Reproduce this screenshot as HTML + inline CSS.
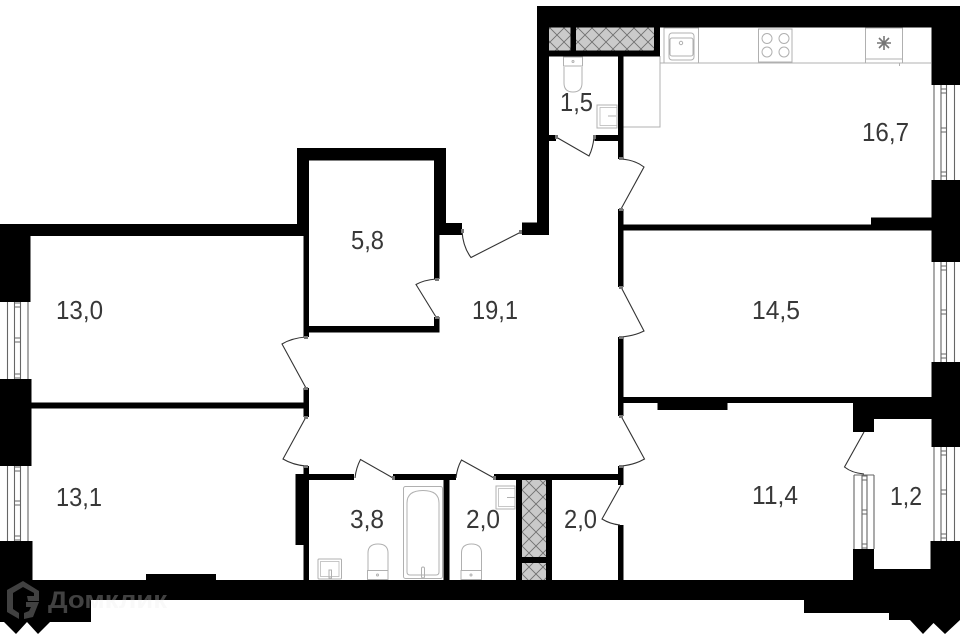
<!DOCTYPE html>
<html><head><meta charset="utf-8"><style>
html,body{margin:0;padding:0;background:#fff;width:960px;height:640px;overflow:hidden}
svg{display:block}
text{font-family:"Liberation Sans",sans-serif}
</style></head><body>
<svg width="960" height="640" viewBox="0 0 960 640" xmlns="http://www.w3.org/2000/svg">
<defs>
<pattern id="h" width="14" height="14" patternUnits="userSpaceOnUse" patternTransform="translate(550 28)">
<rect width="14" height="14" fill="#cacaca"/><path d="M0 0L14 14M14 0L0 14" stroke="#707070" stroke-width="0.900"/>
</pattern>
</defs>
<!-- shafts -->
<g fill="url(#h)">
<rect x="549" y="27" width="22" height="24"/><rect x="575" y="27" width="80" height="24"/>
<rect x="521" y="479" width="26" height="79"/><rect x="521" y="562" width="26" height="19"/>
</g>
<!-- fixtures -->
<g fill="none" stroke="#b0b0b0" stroke-width="1">
<path d="M623 127H660V56"/><path d="M660 63H931"/>
<rect x="664" y="28" width="34.500" height="35"/>
<rect x="669" y="33" width="25" height="27" rx="3"/><rect x="670" y="38" width="23" height="18" rx="2"/><circle cx="681" cy="43" r="1.700"/>
<rect x="758.500" y="29" width="33.500" height="33"/><circle cx="767" cy="38.500" r="5"/><circle cx="784" cy="38.500" r="5"/><circle cx="767" cy="52" r="5"/><circle cx="784" cy="52" r="5"/>
<rect x="865.500" y="28" width="37" height="35"/><path d="M865.500 59H902.500"/><path d="M899.500 63V66"/>
<path d="M884 36V50M877 43H891M879 38L889 48M889 38L879 48" stroke="#777" stroke-width="1.600"/>
<!-- bath closet -->
<rect x="563.500" y="57" width="19" height="9"/><path d="M564 67V83Q564 92 573 92Q582 92 582 83V67"/><circle cx="573" cy="61.500" r="1"/>
<rect x="597" y="105" width="20" height="23"/><rect x="600" y="107.500" width="17" height="18" stroke-width=".7"/><path d="M608 116H616"/>
<!-- bathroom -->
<rect x="403.500" y="486.500" width="39" height="92" rx="2"/>
<path d="M407 572V503Q407 490.500 423 490.500Q439 490.500 439 503V572Q439 575 436 575H410Q407 575 407 572Z"/>
<rect x="421.500" y="567" width="3" height="11" rx="1.500"/>
<path d="M368 570V553Q368 544 378 544Q388 544 388 553V570"/><rect x="367.500" y="570.500" width="20.500" height="9"/><circle cx="377.500" cy="575" r="1"/>
<path d="M461.500 570V553Q461.500 544 471.500 544Q481.500 544 481.500 553V570"/><rect x="461" y="570.500" width="20.500" height="9"/><circle cx="471" cy="575" r="1"/>
<rect x="318" y="559" width="23.500" height="20" rx="1"/><rect x="320.500" y="561.500" width="18.500" height="15" stroke-width=".7"/><rect x="329" y="570" width="2.500" height="8"/>
<rect x="496" y="486" width="19" height="23"/><rect x="498.500" y="488.500" width="16.500" height="18" stroke-width=".7"/><path d="M507 497.500H515"/>
</g>
<!-- walls -->
<g fill="#000">
<rect x="537" y="6" width="423" height="21.500"/>
<rect x="931.500" y="6" width="28.500" height="79"/>
<rect x="537" y="6" width="12" height="229"/>
<rect x="522" y="222.500" width="27" height="12.500"/>
<rect x="549" y="50.500" width="111" height="6"/>
<rect x="570.500" y="27" width="5.500" height="24"/>
<rect x="654" y="27" width="6" height="29"/>
<rect x="618" y="56" width="5.500" height="103"/>
<rect x="549" y="135" width="7" height="6"/>
<rect x="594.500" y="135" width="24" height="6"/>
<rect x="618" y="209" width="5.500" height="78"/>
<rect x="618" y="337" width="5.500" height="79"/>
<rect x="618" y="466" width="5.500" height="19"/>
<rect x="618" y="525" width="5.500" height="55"/>
<rect x="623" y="224.500" width="310" height="6"/>
<rect x="871" y="217.500" width="62" height="13"/>
<rect x="931.500" y="180" width="28.500" height="82"/>
<rect x="931.500" y="362" width="28.500" height="85"/>
<rect x="623" y="397" width="231" height="6"/>
<rect x="657.500" y="397" width="70" height="13"/>
<rect x="853" y="397" width="79" height="22"/>
<rect x="853" y="397" width="21" height="35"/>
<rect x="930.500" y="541" width="29.500" height="60"/>
<rect x="853" y="549" width="21" height="32"/>
<rect x="853" y="569" width="80" height="31"/>
<rect x="0" y="580" width="960" height="20"/>
<path d="M804 600H960V620H960L945 634L933.500 623L923 634L910 620H889V613H804Z"/>
<!-- left -->
<rect x="0" y="224" width="30.500" height="78"/>
<rect x="0" y="224" width="304" height="12"/>
<rect x="0" y="379" width="31.500" height="87"/>
<rect x="31" y="402.500" width="273" height="6"/>
<rect x="0" y="541" width="32.500" height="40"/>
<rect x="146" y="574" width="70" height="6"/>
<path d="M0 600H91V622H50L38 634L27 622L16 634L4 622H0Z"/>
<!-- room 5.8 -->
<rect x="297" y="148" width="149" height="12.500"/>
<rect x="297" y="148" width="12" height="78"/>
<rect x="303.500" y="224" width="5.500" height="113"/>
<rect x="434" y="148" width="12" height="87"/>
<rect x="446" y="223" width="16" height="12"/>
<rect x="434" y="235" width="5.500" height="44"/>
<rect x="434" y="317" width="5.500" height="15.500"/>
<rect x="309" y="326" width="130" height="6.500"/>
<!-- centre -->
<rect x="303.500" y="388" width="5.500" height="29"/>
<rect x="303.500" y="466" width="5.500" height="114"/>
<rect x="295.500" y="474" width="8" height="71"/>
<rect x="309" y="474" width="45" height="6"/>
<rect x="393" y="474" width="63" height="6"/>
<rect x="494" y="474" width="124" height="6"/>
<rect x="443.500" y="480" width="6" height="100"/>
<rect x="516" y="480" width="6" height="100"/>
<rect x="546" y="480" width="6" height="100"/>
<rect x="522" y="557" width="24" height="6"/>
</g>
<!-- doors -->
<g fill="none" stroke="#333" stroke-width="1.100">
<path d="M556 137L589 156Q593 148 594 137"/>
<path d="M621 159Q635 160 644 167L621 209"/>
<path d="M621 287L644 331Q634 336 621 337"/>
<path d="M621 416L644.500 459Q634 465 621 466"/>
<path d="M621 485L602 519Q610 524 620 525"/>
<path d="M494 478L461.500 460Q457 468 456 478"/>
<path d="M393 478L360.500 459.500Q356 468 355 478"/>
<path d="M306 337Q292 338 282 344L306 388"/>
<path d="M306 417L283 459Q293 465 306 466"/>
<path d="M436 279Q424 280 416 284.500L436 317"/>
<path d="M462 231Q463 247 471 257.500L521 232"/>
<path d="M864 432L844.500 467Q852 473 864 474"/>
</g>
<!-- hinges -->
<g fill="#777">
<rect x="619" y="157" width="4" height="3"/><rect x="619" y="208" width="4" height="3"/>
<rect x="619" y="286" width="4" height="3"/><rect x="619" y="336" width="4" height="3"/>
<rect x="619" y="415" width="4" height="3"/><rect x="619" y="465" width="4" height="3"/>
<rect x="304" y="336" width="4" height="3"/><rect x="304" y="387" width="4" height="3"/>
<rect x="304" y="416" width="4" height="3"/><rect x="304" y="465" width="4" height="3"/>
<rect x="435" y="278" width="4" height="3"/><rect x="435" y="316" width="4" height="3"/>
<rect x="461" y="229" width="3" height="4"/><rect x="519" y="230" width="3" height="4"/>
<rect x="555" y="135" width="3" height="4"/><rect x="593" y="135" width="3" height="4"/>
<rect x="392" y="476" width="3" height="4"/><rect x="493" y="476" width="3" height="4"/>
</g>
<!-- windows -->
<g fill="none" stroke="#666" stroke-width="1.100">
<g transform="translate(934 85)"><path d="M0 0V95M7 0V95M12.500 0V95M20.500 0V95"/><path d="M7 4H12.500M7 8H12.500M7 43H12.500M7 47H12.500M7 87H12.500M7 91H12.500"/></g>
<g transform="translate(934 262)"><path d="M0 0V100M7 0V100M12.500 0V100M20.500 0V100"/><path d="M7 4H12.500M7 8H12.500M7 48H12.500M7 52H12.500M7 92H12.500M7 96H12.500"/></g>
<g transform="translate(934 447)"><path d="M0 0V94M7 0V94M12.500 0V94M20.500 0V94"/><path d="M7 4H12.500M7 8H12.500M7 43H12.500M7 47H12.500M7 87H12.500M7 91H12.500"/></g>
<g transform="translate(7.500 302)"><path d="M0 0V77M7 0V77M13 0V77M20.500 0V77"/><path d="M7 1H13M7 5H13M7 36H13M7 40H13M7 72H13M7 76H13"/></g>
<g transform="translate(7.500 466)"><path d="M0 0V75M7 0V75M13 0V75M20.500 0V75"/><path d="M7 1H13M7 5H13M7 35H13M7 39H13M7 70H13M7 74H13"/></g>
<g transform="translate(854 475)"><path d="M0 0V74M8 0V74M13 0V74M20 0V74M0 0H20"/><path d="M8 1H13M8 5H13M8 35H13M8 39H13M8 69H13M8 73H13"/></g>
</g>
<!-- labels -->
<g font-size="26" fill="#383838" lengthAdjust="spacingAndGlyphs">
<text x="862" y="141" textLength="47" lengthAdjust="spacingAndGlyphs">16,7</text>
<text x="560" y="111" textLength="33" lengthAdjust="spacingAndGlyphs">1,5</text>
<text x="351" y="249" textLength="33" lengthAdjust="spacingAndGlyphs">5,8</text>
<text x="472" y="319" textLength="46" lengthAdjust="spacingAndGlyphs">19,1</text>
<text x="56" y="319" textLength="47" lengthAdjust="spacingAndGlyphs">13,0</text>
<text x="752" y="319" textLength="48" lengthAdjust="spacingAndGlyphs">14,5</text>
<text x="56" y="506" textLength="46" lengthAdjust="spacingAndGlyphs">13,1</text>
<text x="350" y="528" textLength="34" lengthAdjust="spacingAndGlyphs">3,8</text>
<text x="466" y="528" textLength="34" lengthAdjust="spacingAndGlyphs">2,0</text>
<text x="564" y="528" textLength="33" lengthAdjust="spacingAndGlyphs">2,0</text>
<text x="752" y="504" textLength="46" lengthAdjust="spacingAndGlyphs">11,4</text>
<text x="890" y="505" textLength="32" lengthAdjust="spacingAndGlyphs">1,2</text>
</g>
<!-- watermark -->
<g fill="rgba(235,235,235,.28)">
<path fill-rule="evenodd" d="M23 581L39 591V601H28L27 596H34V593L23 587L13 593V609L19 613V619L7 612V590ZM26 602H39L33 617L24 619V613L29 611L31 607H26Z"/>
<text x="48" y="608" font-size="24" font-weight="bold" textLength="119" lengthAdjust="spacingAndGlyphs">Домклик</text>
</g>
</svg>
</body></html>
